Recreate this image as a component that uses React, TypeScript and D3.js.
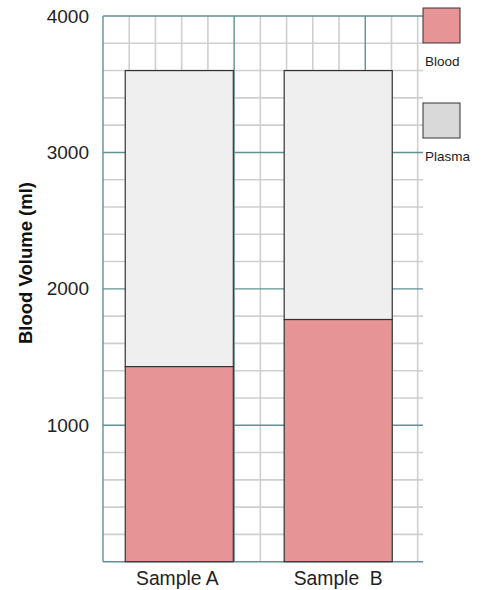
import React from "react";
import * as d3 from "d3";

const categories = ["Sample A", "Sample  B"];
const bloodValues = [1430, 1775];
const plasmaValues = [2170, 1825];
const yTicks = [1000, 2000, 3000, 4000];
const legendLabels = ["Blood", "Plasma"];

const W = 484;
const H = 590;
const left = 103;
const top = 16;
const bottom = 561.7;
const gridRight = 417.7;
const lineRight = 423;

const BLOOD = "#e69495";
const PLASMA_BAR = "#efefef";
const PLASMA_LEG = "#d9d9d9";
const TEAL = "#5f9292";
const MINOR = "#cfcfcf";
const FONT = "'Liberation Sans', Arial, Helvetica, sans-serif";

export default function App() {
  const y = d3.scaleLinear().domain([0, 4000]).range([bottom, top]);
  const x = d3
    .scaleBand<string>()
    .domain(categories)
    .range([left, 414.5])
    .paddingInner(0.32)
    .paddingOuter(0.14);
  const gx = d3.scaleLinear().domain([0, 12]).range([left, gridRight]);

  const hLines = d3.range(0, 4001, 200);
  const vLines = d3.range(0, 13);

  return (
    <svg
      width={W}
      height={H}
      style={{ position: "absolute", left: 0, top: 0, fontFamily: FONT }}
    >
      <rect width={W} height={H} fill="#fff" />
      {hLines
        .filter((v) => v % 1000 !== 0)
        .map((v) => (
          <line key={"h" + v} x1={left} x2={lineRight} y1={y(v)} y2={y(v)} stroke={MINOR} strokeWidth={1.6} />
        ))}
      {vLines
        .filter((i) => i % 5 !== 0)
        .map((i) => (
          <line key={"v" + i} x1={gx(i)} x2={gx(i)} y1={top} y2={bottom} stroke={MINOR} strokeWidth={1.6} />
        ))}
      {hLines
        .filter((v) => v % 1000 === 0)
        .map((v) => (
          <line key={"H" + v} x1={left} x2={lineRight} y1={y(v)} y2={y(v)} stroke={TEAL} strokeWidth={1.4} />
        ))}
      {vLines
        .filter((i) => i % 5 === 0)
        .map((i) => (
          <line key={"V" + i} x1={gx(i)} x2={gx(i)} y1={top} y2={bottom} stroke={TEAL} strokeWidth={1.4} />
        ))}

      {categories.map((c, i) => {
        const x0 = x(c)!;
        const bw = x.bandwidth();
        const b = bloodValues[i];
        const p = plasmaValues[i];
        return (
          <g key={c}>
            <rect x={x0} y={y(b + p)} width={bw} height={y(b) - y(b + p)} fill={PLASMA_BAR} stroke="#333" strokeWidth={1.2} />
            <rect x={x0} y={y(b)} width={bw} height={y(0) - y(b)} fill={BLOOD} stroke="#333" strokeWidth={1.2} />
            <text
              x={x0 + bw / 2 - (i === 0 ? 2 : 0)}
              y={585}
              textAnchor="middle"
              fontSize={19.3}
              fill="#222"
              style={{ whiteSpace: "pre" }}
            >
              {c}
            </text>
          </g>
        );
      })}

      {yTicks.map((t) => (
        <text key={t} x={89} y={y(t)} textAnchor="end" dominantBaseline="central" fontSize={19} fill="#222">
          {t}
        </text>
      ))}

      <text
        transform={`translate(32, 263) rotate(-90)`}
        textAnchor="middle"
        fontSize={18.5}
        fontWeight="bold"
        fill="#111"
      >
        Blood Volume (ml)
      </text>

      {legendLabels.map((l, i) => (
        <g key={l}>
          <rect
            x={423}
            y={8 + i * 95}
            width={37}
            height={35}
            fill={i === 0 ? BLOOD : PLASMA_LEG}
            stroke="#333"
            strokeWidth={1}
          />
          <text x={425} y={65.7 + i * 95} fontSize={13.5} fill="#222">
            {l}
          </text>
        </g>
      ))}
    </svg>
  );
}
